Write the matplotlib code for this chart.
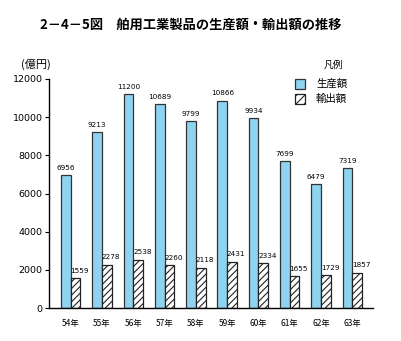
import numpy as np
import matplotlib.pyplot as plt
from matplotlib.patches import Rectangle

plt.rcParams['font.family'] = ['Noto Sans CJK JP', 'DejaVu Sans']
plt.rcParams['hatch.linewidth'] = 0.8

years = ['54年', '55年', '56年', '57年', '58年', '59年', '60年', '61年', '62年', '63年']
production = [6956, 9213, 11200, 10689, 9799, 10866, 9934, 7699, 6479, 7319]
exports = [1559, 2278, 2538, 2260, 2118, 2431, 2334, 1655, 1729, 1857]

blue = '#8ed3f0'
edge = '#333333'

fig = plt.figure(figsize=(4.02, 3.41), dpi=100)
ax = fig.add_axes([49 / 402, 1 - 308 / 341, 324 / 402, 229 / 341])

x = np.arange(len(years))
w = 0.31
ax.bar(x - w / 2, production, w, color=blue, edgecolor=edge, linewidth=0.9)
ax.bar(x + w / 2, exports, w, color='white', edgecolor='#222222', hatch='/////', linewidth=0.9)

for xi, v in zip(x, production):
    ax.annotate(str(v), (xi - w / 2, v), xytext=(0, 3), textcoords='offset points',
                ha='center', va='bottom', fontsize=5.2, family='DejaVu Sans')
for xi, v in zip(x, exports):
    ax.annotate(str(v), (xi + w / 2, v), xytext=(3, 3), textcoords='offset points',
                ha='center', va='bottom', fontsize=5.2, family='DejaVu Sans')

ax.set_xlim(-0.693, 9.66)
ax.set_ylim(0, 12000)
ax.set_yticks(range(0, 12001, 2000))
ax.set_yticklabels([str(t) for t in range(0, 12001, 2000)], fontsize=6.8, family='DejaVu Sans')
ax.set_xticks(x)
ax.set_xticklabels(years, fontsize=6)
ax.tick_params(axis='x', length=0, pad=8)
ax.tick_params(axis='y', length=3, width=0.8, pad=1.5)
for s in ['top', 'right']:
    ax.spines[s].set_visible(False)
ax.spines['left'].set_linewidth(1.0)
ax.spines['bottom'].set_linewidth(1.0)

fig.text(40 / 402, 1 - 25 / 341, '2－4－5図　舶用工業製品の生産額・輸出額の推移',
         fontsize=9.5, fontweight='bold', va='center', ha='left')
fig.text(21 / 402, 1 - 64 / 341, '(億円)', fontsize=8, va='center', ha='left')

# legend
fig.text(333 / 402, 1 - 65 / 341, '凡例', fontsize=7, va='center', ha='center')
fig.patches.append(Rectangle((295 / 402, 1 - 89 / 341), 10 / 402, 10 / 341,
                             transform=fig.transFigure, facecolor=blue, edgecolor=edge, linewidth=0.9))
fig.patches.append(Rectangle((295 / 402, 1 - 104 / 341), 10 / 402, 10 / 341,
                             transform=fig.transFigure, facecolor='white', edgecolor='#222222',
                             hatch='////', linewidth=0.9))
fig.text(316 / 402, 1 - 84 / 341, '生産額', fontsize=7.5, va='center', ha='left')
fig.text(316 / 402, 1 - 99 / 341, '輸出額', fontsize=7.5, va='center', ha='left')

fig.savefig('out.png', dpi=100)
